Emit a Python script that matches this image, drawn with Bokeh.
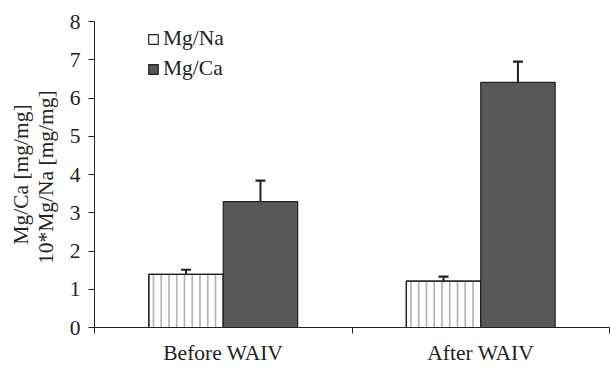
from bokeh.plotting import figure
from bokeh.models import (ColumnDataSource, Range1d, FixedTicker, Whisker, TeeHead,
                          Legend, LegendItem)
from bokeh.transform import dodge
from bokeh.embed import file_html
from bokeh.resources import INLINE

categories = ["Before WAIV", "After WAIV"]
mg_na = [1.39, 1.21]
mg_na_err = [0.12, 0.12]
mg_ca = [3.29, 6.41]
mg_ca_err = [0.55, 0.54]
y_ticks = [0, 1, 2, 3, 4, 5, 6, 7, 8]

FONT = "Liberation Serif"
FS = "21.5px"
INK = "#222222"

centers = [i + 0.5 for i in range(len(categories))]
bounds = [i for i in range(len(categories) + 1)]

BW = 0.289   # bar width (fraction of a category)
OFF = 0.1445  # offset of each bar from the category centre
N_HATCH = 9

src = ColumnDataSource(dict(
    x=centers,
    na=mg_na,
    na_up=[v + e for v, e in zip(mg_na, mg_na_err)],
    ca=mg_ca,
    ca_up=[v + e for v, e in zip(mg_ca, mg_ca_err)],
))

# vertical hatch lines inside each Mg/Na bar, derived from the bar extents
hx, hy0, hy1 = [], [], []
for c, v in zip(centers, mg_na):
    left = c - OFF - BW / 2
    for k in range(N_HATCH):
        hx.append(left + BW * (k + 0.6) / (N_HATCH + 0.6))
        hy0.append(0)
        hy1.append(v)
hatch_src = ColumnDataSource(dict(x=hx, y0=hy0, y1=hy1))

p = figure(width=610, height=367, x_range=Range1d(0, len(categories)),
           y_range=Range1d(y_ticks[0], y_ticks[-1]),
           output_backend="svg", toolbar_location=None,
           min_border_left=94, min_border_right=1, min_border_top=21,
           min_border_bottom=40)

r1 = p.vbar(x=dodge("x", -OFF), top="na", width=BW, source=src,
            fill_color="white", line_color=INK, line_width=1.2)
p.segment(x0="x", y0="y0", x1="x", y1="y1", source=hatch_src,
          line_color="#b4b4b4", line_width=1.7)
p.vbar(x=dodge("x", -OFF), top="na", width=BW, source=src,
       fill_alpha=0, line_color=INK, line_width=1.2)
r2 = p.vbar(x=dodge("x", OFF), top="ca", width=BW, source=src,
            fill_color="#585858", line_color=INK, line_width=1.2)

for xoff, lo, up in [(-OFF, "na", "na_up"), (OFF, "ca", "ca_up")]:
    w = Whisker(base=dodge("x", xoff), lower=lo, upper=up, source=src,
                lower_head=None,
                upper_head=TeeHead(size=10, line_width=2.2, line_color=INK),
                line_width=2, line_color=INK)
    p.add_layout(w)

legend = Legend(items=[LegendItem(label="Mg/Na", renderers=[r1]),
                       LegendItem(label="Mg/Ca", renderers=[r2])],
                location=(53, 246), glyph_width=12, glyph_height=12,
                label_height=12, spacing=5, padding=0, margin=0,
                label_standoff=4, border_line_color=None,
                background_fill_alpha=0, label_text_font=FONT,
                label_text_font_size=FS, label_text_color=INK)
p.add_layout(legend)

# x axis
p.xaxis.ticker = FixedTicker(ticks=centers, minor_ticks=bounds)
p.xaxis.major_label_overrides = {c: lab for c, lab in zip(centers, categories)}
p.xaxis.major_tick_out = 0
p.xaxis.major_tick_in = 0
p.xaxis.minor_tick_out = 6
p.xaxis.minor_tick_in = 0
p.xaxis.minor_tick_line_color = INK
p.xaxis.axis_line_color = INK
p.xaxis.major_label_standoff = 7
p.xaxis.major_label_text_line_height = 1.0
p.xaxis.major_label_text_font = FONT
p.xaxis.major_label_text_font_size = FS
p.xaxis.major_label_text_color = INK

# y axis
p.yaxis.ticker = FixedTicker(ticks=y_ticks, minor_ticks=[])
p.yaxis.major_tick_out = 6
p.yaxis.major_tick_in = 0
p.yaxis.major_tick_line_color = INK
p.yaxis.axis_line_color = INK
p.yaxis.major_label_standoff = 8
p.yaxis.major_label_text_font = FONT
p.yaxis.major_label_text_font_size = FS
p.yaxis.major_label_text_color = INK
p.yaxis.axis_label = "Mg/Ca [mg/mg]\n10*Mg/Na  [mg/mg]"
p.yaxis.axis_label_text_font = FONT
p.yaxis.axis_label_text_font_size = FS
p.yaxis.axis_label_text_font_style = "normal"
p.yaxis.axis_label_text_color = INK
p.yaxis.axis_label_text_line_height = 1.05
p.yaxis.axis_label_standoff = 9

p.grid.visible = False
p.outline_line_color = None
p.background_fill_color = "white"
p.border_fill_color = "white"

open("out.html", "w").write(file_html(p, INLINE))
